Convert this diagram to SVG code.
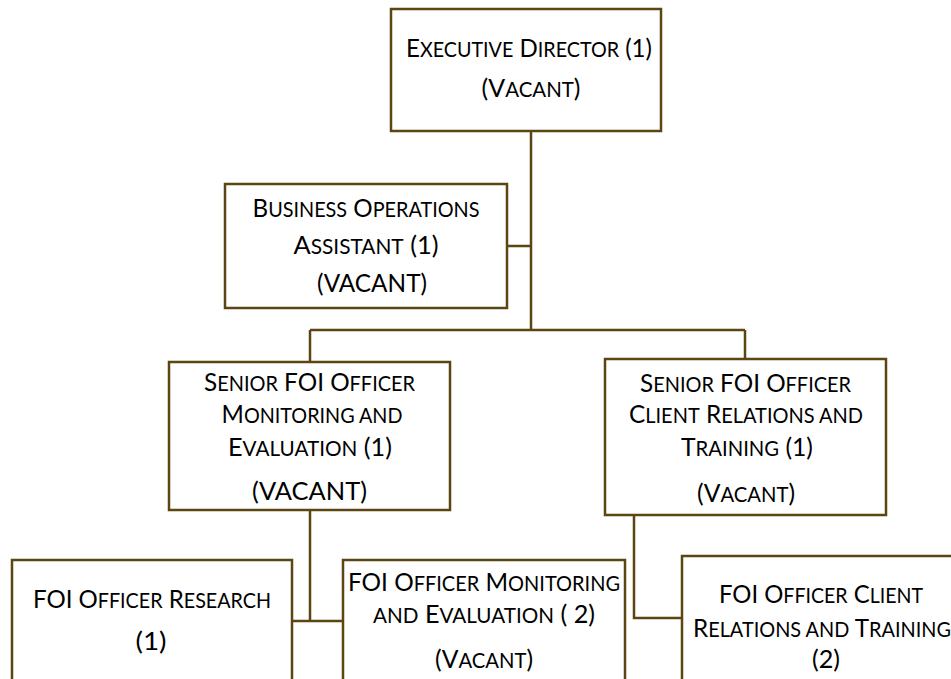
<svg xmlns="http://www.w3.org/2000/svg" width="951" height="679" viewBox="0 0 951 679">
<style>
.box{fill:#fff;stroke:#5b4613;stroke-width:2.5}
.con{fill:none;stroke:#5b4613;stroke-width:2.5}
text{font-family:Lato,"Open Sans","Liberation Sans",sans-serif;font-size:25px;fill:#000;text-anchor:middle}
.s{font-size:20.5px}
</style>
<rect width="951" height="679" fill="#fff"/>
<g id="connectors">
<path class="con" d="M531,131V330M507,246H531M310,330H745M310,330V362M745,330V359M310,510V621M292,621H343M634,515V618H682"/>
</g>
<g id="exec">
<rect class="box" x="391" y="9" width="270" height="122"/>
<text x="529" y="57" textLength="246" lengthAdjust="spacingAndGlyphs">E<tspan class="s">XECUTIVE</tspan> D<tspan class="s">IRECTOR</tspan> (1)</text>
<text x="531" y="97" textLength="99" lengthAdjust="spacingAndGlyphs">(V<tspan class="s">ACANT</tspan>)</text>
</g>
<g id="business">
<rect class="box" x="225" y="184" width="282" height="124"/>
<text x="366" y="217" textLength="227" lengthAdjust="spacingAndGlyphs">B<tspan class="s">USINESS</tspan> O<tspan class="s">PERATIONS</tspan></text>
<text x="366" y="254" textLength="145" lengthAdjust="spacingAndGlyphs">A<tspan class="s">SSISTANT</tspan> (1)</text>
<text x="372" y="292" textLength="110" lengthAdjust="spacingAndGlyphs">(VACANT)</text>
</g>
<g id="senior-me">
<rect class="box" x="169" y="362" width="281" height="148"/>
<text x="309.5" y="391" textLength="211" lengthAdjust="spacingAndGlyphs">S<tspan class="s">ENIOR</tspan> FOI O<tspan class="s">FFICER</tspan></text>
<text x="312" y="423" textLength="181" lengthAdjust="spacingAndGlyphs">M<tspan class="s">ONITORING AND</tspan></text>
<text x="310" y="456" textLength="164" lengthAdjust="spacingAndGlyphs">E<tspan class="s">VALUATION</tspan> (1)</text>
<text x="309.5" y="500" textLength="115" lengthAdjust="spacingAndGlyphs">(VACANT)</text>
</g>
<g id="senior-cr">
<rect class="box" x="605" y="359" width="281" height="156"/>
<text x="745.5" y="392" textLength="211" lengthAdjust="spacingAndGlyphs">S<tspan class="s">ENIOR</tspan> FOI O<tspan class="s">FFICER</tspan></text>
<text x="746" y="423" textLength="234" lengthAdjust="spacingAndGlyphs">C<tspan class="s">LIENT</tspan> R<tspan class="s">ELATIONS AND</tspan></text>
<text x="747" y="456" textLength="132" lengthAdjust="spacingAndGlyphs">T<tspan class="s">RAINING</tspan> (1)</text>
<text x="746" y="502" textLength="98" lengthAdjust="spacingAndGlyphs">(V<tspan class="s">ACANT</tspan>)</text>
</g>
<g id="foi-research">
<rect class="box" x="12" y="560" width="280" height="130"/>
<text x="152" y="608" textLength="238" lengthAdjust="spacingAndGlyphs">FOI O<tspan class="s">FFICER</tspan> R<tspan class="s">ESEARCH</tspan></text>
<text x="151" y="650" textLength="31" lengthAdjust="spacingAndGlyphs">(1)</text>
</g>
<g id="foi-me">
<rect class="box" x="343" y="560" width="282" height="130"/>
<text x="484" y="591" textLength="272" lengthAdjust="spacingAndGlyphs">FOI O<tspan class="s">FFICER</tspan> M<tspan class="s">ONITORING</tspan></text>
<text x="484" y="623" textLength="222" lengthAdjust="spacingAndGlyphs"><tspan class="s">AND</tspan> E<tspan class="s">VALUATION</tspan> ( 2)</text>
<text x="484" y="668" textLength="98" lengthAdjust="spacingAndGlyphs">(V<tspan class="s">ACANT</tspan>)</text>
</g>
<g id="foi-cr">
<rect class="box" x="682" y="556" width="282" height="130"/>
<text x="821" y="603" textLength="204" lengthAdjust="spacingAndGlyphs">FOI O<tspan class="s">FFICER</tspan> C<tspan class="s">LIENT</tspan></text>
<text x="822" y="637" textLength="258" lengthAdjust="spacingAndGlyphs">R<tspan class="s">ELATIONS AND</tspan> T<tspan class="s">RAINING</tspan></text>
<text x="826" y="668" textLength="28" lengthAdjust="spacingAndGlyphs">(2)</text>
</g>
</svg>
